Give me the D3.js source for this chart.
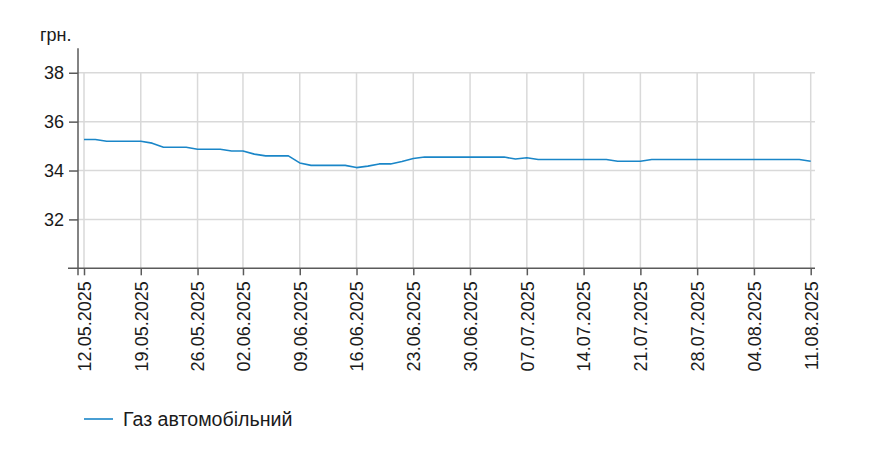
<!DOCTYPE html>
<html>
<head>
<meta charset="utf-8">
<script src="https://cdn.jsdelivr.net/npm/d3@7"></script>
<style>
  html, body { margin: 0; padding: 0; background: #fff; }
  svg text { font-family: "Liberation Sans", Arial, sans-serif; fill: #1a1a1a; }
</style>
</head>
<body>
<svg id="chart" width="873" height="472"></svg>
<script>
const dates = [
  "12.05.2025","13.05.2025","14.05.2025","15.05.2025","16.05.2025",
  "19.05.2025","20.05.2025","21.05.2025","22.05.2025","23.05.2025",
  "26.05.2025","27.05.2025","28.05.2025","29.05.2025",
  "02.06.2025","03.06.2025","04.06.2025","05.06.2025","06.06.2025",
  "09.06.2025","10.06.2025","11.06.2025","12.06.2025","13.06.2025",
  "16.06.2025","17.06.2025","18.06.2025","19.06.2025","20.06.2025",
  "23.06.2025","24.06.2025","25.06.2025","26.06.2025","27.06.2025",
  "30.06.2025","01.07.2025","02.07.2025","03.07.2025","04.07.2025",
  "07.07.2025","08.07.2025","09.07.2025","10.07.2025","11.07.2025",
  "14.07.2025","15.07.2025","16.07.2025","17.07.2025","18.07.2025",
  "21.07.2025","22.07.2025","23.07.2025","24.07.2025","25.07.2025",
  "28.07.2025","29.07.2025","30.07.2025","31.07.2025","01.08.2025",
  "04.08.2025","05.08.2025","06.08.2025","07.08.2025","08.08.2025",
  "11.08.2025"
];
const gasPrices = [
  35.27,35.27,35.20,35.20,35.20,
  35.20,35.12,34.95,34.95,34.95,
  34.87,34.87,34.87,34.80,
  34.80,34.67,34.60,34.60,34.60,
  34.31,34.21,34.21,34.21,34.21,
  34.12,34.18,34.27,34.27,34.37,
  34.49,34.55,34.55,34.55,34.55,
  34.55,34.55,34.55,34.55,34.47,
  34.52,34.45,34.45,34.45,34.45,
  34.45,34.45,34.45,34.38,34.38,
  34.38,34.45,34.45,34.45,34.45,
  34.45,34.45,34.45,34.45,34.45,
  34.45,34.45,34.45,34.45,34.45,
  34.38
];
const xTickLabels = ["12.05.2025","19.05.2025","26.05.2025","02.06.2025","09.06.2025","16.06.2025","23.06.2025","30.06.2025","07.07.2025","14.07.2025","21.07.2025","28.07.2025","04.08.2025","11.08.2025"];
const yTickValues = [32, 34, 36, 38];
const seriesName = "Газ автомобільний";
const unitLabel = "грн.";

(function () {
const svg = d3.select("#chart");
const pLeft = 78, pRight = 815, pTop = 48.3, pBottom = 268.3;
const lineColor = "#1a86c8";
const gridColor = "#d9d9d9";
const axisColor = "#5a5a5a";

const x = d3.scalePoint().domain(dates).range([84, 810.7]);
const y = d3.scaleLinear().domain([30, 39]).range([pBottom, pTop]);

// horizontal grid
svg.append("g").selectAll("line").data(yTickValues).join("line")
  .attr("x1", pLeft).attr("x2", pRight)
  .attr("y1", d => y(d)).attr("y2", d => y(d))
  .attr("stroke", gridColor).attr("stroke-width", 1.5);

// vertical grid
svg.append("g").selectAll("line").data(xTickLabels).join("line")
  .attr("x1", d => x(d)).attr("x2", d => x(d))
  .attr("y1", y(38)).attr("y2", pBottom)
  .attr("stroke", gridColor).attr("stroke-width", 1.5);

// y axis
const yAxis = svg.append("g").attr("transform", `translate(${pLeft},0)`)
  .call(d3.axisLeft(y).tickValues(yTickValues).tickSize(9).tickPadding(5).tickFormat(d3.format("d")));
yAxis.select(".domain").remove();
yAxis.selectAll(".tick line").attr("stroke", axisColor).attr("stroke-width", 1.5);
yAxis.selectAll(".tick text").attr("font-size", 18).attr("fill", "#1a1a1a")
  .attr("font-family", "Liberation Sans, Arial, sans-serif");
svg.append("line").attr("x1", pLeft).attr("x2", pLeft).attr("y1", pTop).attr("y2", pBottom + 7)
  .attr("stroke", axisColor).attr("stroke-width", 1.5);

// x axis
const xAxis = svg.append("g").attr("transform", `translate(0,${pBottom})`)
  .call(d3.axisBottom(x).tickValues(xTickLabels).tickSize(7).tickPadding(0));
xAxis.select(".domain").remove();
xAxis.selectAll(".tick line").attr("stroke", axisColor).attr("stroke-width", 1.5);
xAxis.selectAll(".tick text")
  .attr("font-size", 18).attr("fill", "#1a1a1a")
  .attr("font-family", "Liberation Sans, Arial, sans-serif")
  .attr("text-anchor", "end")
  .attr("transform", "translate(0,13) rotate(-90)")
  .attr("x", 0).attr("y", 0).attr("dy", "0.35em");
svg.append("line").attr("x1", 68).attr("x2", pRight).attr("y1", pBottom).attr("y2", pBottom)
  .attr("stroke", axisColor).attr("stroke-width", 1.5);

// unit label
svg.append("text").attr("x", 40).attr("y", 41).attr("font-size", 18).text(unitLabel);

// series line
svg.append("path").datum(gasPrices.map((v, i) => [dates[i], v]))
  .attr("fill", "none").attr("stroke", lineColor).attr("stroke-width", 1.6)
  .attr("stroke-linejoin", "round")
  .attr("d", d3.line().x(d => x(d[0])).y(d => y(d[1])));

// legend
const lg = svg.append("g");
lg.append("line").attr("x1", 84).attr("x2", 113).attr("y1", 419).attr("y2", 419)
  .attr("stroke", lineColor).attr("stroke-width", 1.6);
lg.append("text").attr("x", 123).attr("y", 426).attr("font-size", 19.6).text(seriesName);
})();
</script>
</body>
</html>
